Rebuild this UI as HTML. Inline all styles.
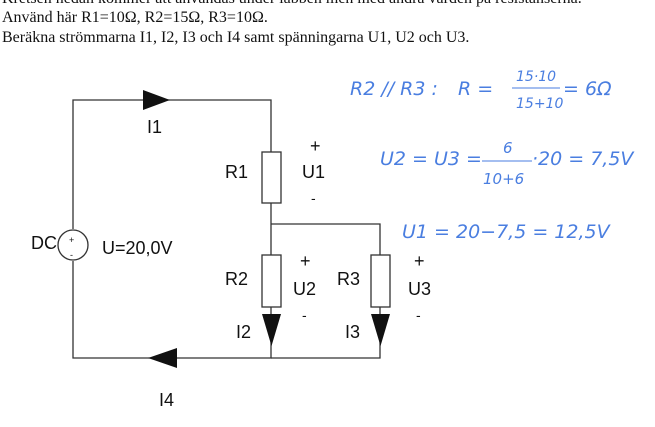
<!DOCTYPE html>
<html><head><meta charset="utf-8"><style>
html,body{margin:0;padding:0;background:#fff;width:655px;height:427px;overflow:hidden}
.t{position:absolute;left:2px;font-family:"Liberation Serif",serif;font-size:16px;color:#111;white-space:nowrap}
</style></head><body>
<div class="t" style="top:-10px">Kretsen nedan kommer att användas under labben men med andra värden på resistanserna.</div>
<div class="t" style="top:9px">Använd här R1=10Ω, R2=15Ω, R3=10Ω.</div>
<div class="t" style="top:29px">Beräkna strömmarna I1, I2, I3 och I4 samt spänningarna U1, U2 och U3.</div>
<svg width="655" height="427" style="position:absolute;left:0;top:0" font-family="Liberation Sans, sans-serif">
<g stroke="#333" stroke-width="1.3" fill="none">
<path d="M73 229 V100 H271 V152 M271 203 V255 M271 307 V358 H73 V261"/>
<path d="M271 224 H380 V255 M380 307 V358 H271"/>
<rect x="262" y="152" width="19" height="51" fill="#fff"/>
<rect x="262" y="255" width="19" height="52" fill="#fff"/>
<rect x="371" y="255" width="19" height="52" fill="#fff"/>
<circle cx="73" cy="245" r="15" fill="#fff"/>
</g>
<g fill="#111">
<polygon points="143,90 170,100 143,110"/>
<polygon points="177,348 148,358 177,368"/>
<polygon points="262,314 281,314 271.5,346"/>
<polygon points="371,314 390,314 380.5,346"/>
</g>
<g font-size="18" fill="#111">
<text x="147" y="133">I1</text>
<text x="225" y="178">R1</text>
<text x="302" y="178">U1</text>
<text x="310" y="152">+</text>
<text x="311" y="203" font-size="14">-</text>
<text x="31" y="249">DC</text>
<text x="102" y="254">U=20,0V</text>
<text x="225" y="285">R2</text>
<text x="293" y="295">U2</text>
<text x="300" y="267">+</text>
<text x="302" y="320" font-size="14">-</text>
<text x="337" y="285">R3</text>
<text x="408" y="295">U3</text>
<text x="414" y="267">+</text>
<text x="416" y="320" font-size="14">-</text>
<text x="236" y="338">I2</text>
<text x="345" y="338">I3</text>
<text x="159" y="406">I4</text>
<text x="69" y="243" font-size="9">+</text>
<text x="70" y="258" font-size="9">-</text>
</g>
<g fill="#4a7ee0" font-family="DejaVu Sans, sans-serif" font-style="italic" font-size="19" font-weight="200">
<text x="350" y="95">R2 // R3 :</text>
<text x="458" y="95">R =</text>
<text x="516" y="81" font-size="14">15·10</text>
<line x1="512" y1="88" x2="560" y2="88" stroke="#4a7ee0" stroke-width="1.1"/>
<text x="516" y="108" font-size="14">15+10</text>
<text x="563" y="95">= 6Ω</text>
<text x="380" y="165">U2 = U3 =</text>
<text x="503" y="153" font-size="15">6</text>
<line x1="482" y1="161" x2="532" y2="161" stroke="#4a7ee0" stroke-width="1.1"/>
<text x="483" y="184" font-size="15">10+6</text>
<text x="532" y="165">·20 = 7,5V</text>
<text x="402" y="238">U1 = 20−7,5 = 12,5V</text>
</g>
</svg>
</body></html>
